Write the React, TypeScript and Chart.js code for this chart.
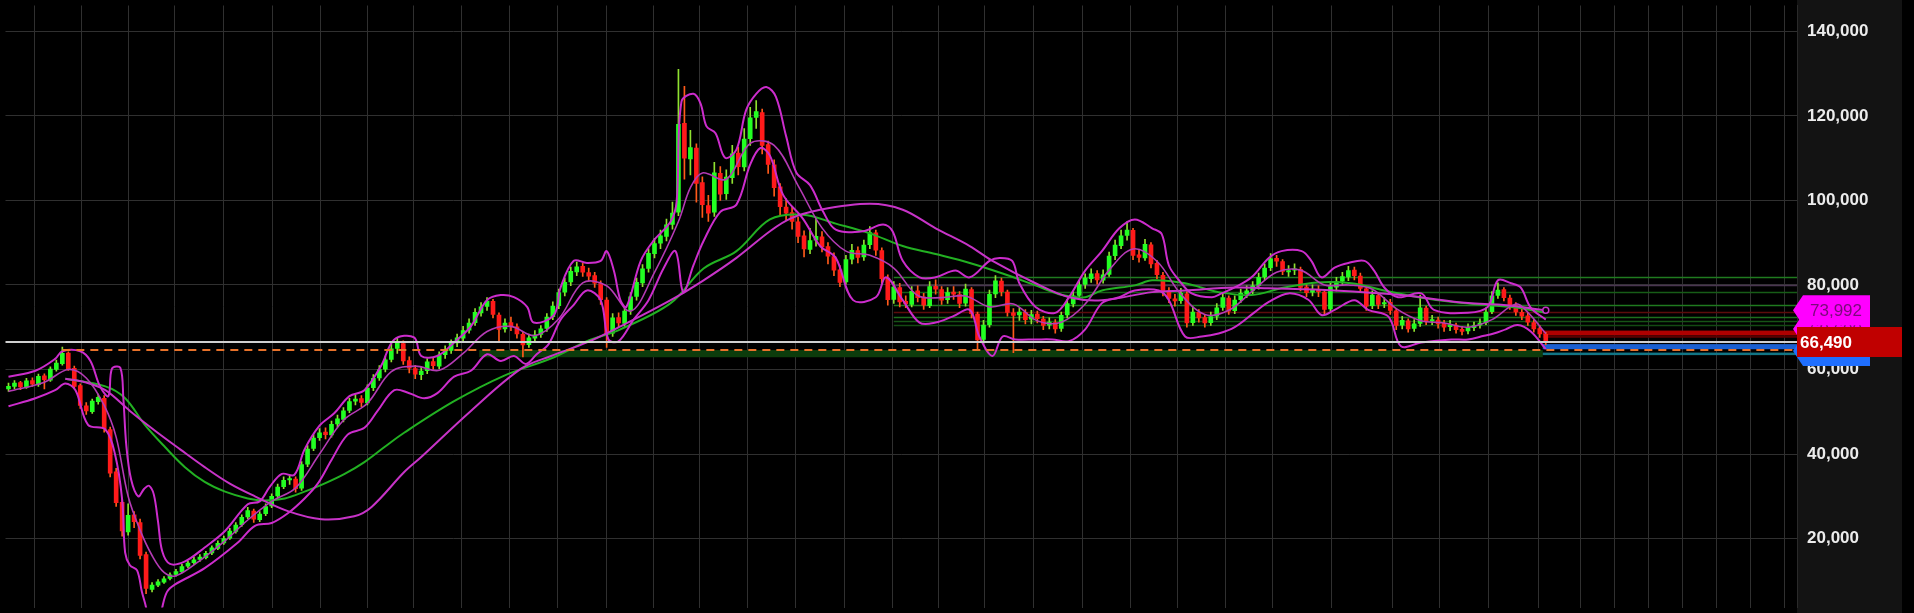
import React, { useEffect, useRef } from 'react';
import { Chart, registerables } from 'chart.js';

Chart.register(...registerables);

// ---- candle data (values in thousands) ----
const opens = [
  55.4,56.0,56.9,55.8,57.4,56.4,58.5,57.5,60.0,61.4,
  63.9,60.3,56.2,51.4,50.0,52.4,53.2,45.8,35.8,28.6,
  21.6,25.6,23.8,16.2,8.0,9.0,9.7,10.6,11.5,12.1,
  13.5,14.3,15.1,15.5,16.6,17.7,19.0,20.1,21.7,23.3,
  25.1,26.5,24.5,25.9,27.7,30.1,32.3,33.9,34.1,31.9,
  37.6,41.3,43.9,45.2,44.5,47.1,48.2,50.3,52.5,53.1,
  52.1,55.7,58.0,60.1,62.4,65.0,66.1,62.1,60.2,58.8,
  59.7,61.9,60.8,63.5,64.5,66.3,67.4,69.3,71.1,73.4,
  74.9,76.1,72.9,69.6,71.1,70.1,68.3,65.9,67.4,68.3,
  69.7,72.5,75.1,78.3,80.7,83.1,84.4,82.9,82.2,80.3,
  76.4,68.6,72.3,70.9,73.9,77.3,80.5,83.9,87.4,89.9,
  91.5,94.3,97.2,118.2,109.8,112.4,104.2,98.8,97.2,106.4,
  101.6,105.4,111.2,107.9,114.6,119.6,120.8,113.2,108.4,103.2,
  98.4,97.1,94.9,91.6,88.4,90.6,91.4,89.1,86.7,83.6,
  80.7,86.1,88.1,86.6,89.5,92.3,88.1,81.6,76.6,79.4,
  76.1,75.4,78.6,77.1,75.1,79.7,78.9,76.5,78.3,77.7,
  75.7,78.9,73.1,67.1,70.6,77.9,80.9,78.3,73.4,72.9,
  73.5,71.9,73.1,71.9,70.5,71.1,69.7,72.9,75.5,77.5,
  80.1,81.5,82.7,81.1,82.5,86.9,89.3,91.7,92.9,87.1,
  86.4,89.5,85.1,82.3,78.6,76.7,76.3,77.9,71.1,73.5,
  72.3,71.1,72.6,74.7,76.9,73.9,76.5,77.9,78.7,79.9,
  81.9,84.1,86.3,85.5,83.1,83.5,83.7,79.5,78.3,78.7,
  78.3,74.3,79.5,80.9,81.9,83.5,82.1,79.1,75.1,77.5,
  75.5,75.9,73.9,70.5,71.5,69.7,70.9,74.5,71.5,71.7,
  70.9,70.1,70.5,69.5,69.1,69.9,70.5,71.1,73.7,77.5,
  78.9,76.9,75.1,73.5,72.7,71.1,69.7,68.3
];
const closes = [
  56.0,56.8,55.9,57.3,56.5,58.4,57.6,60.1,61.5,63.8,
  60.2,56.0,51.5,50.2,52.5,53.4,46.0,35.5,28.5,21.8,
  25.5,24.0,16.0,8.2,9.0,9.8,10.5,11.4,12.2,13.4,
  14.2,15.0,15.6,16.5,17.8,18.9,20.0,21.8,23.2,25.0,
  26.6,24.6,25.8,27.6,30.0,32.2,33.8,34.2,31.8,37.5,
  41.2,43.8,45.0,44.6,47.0,48.3,50.2,52.4,53.0,52.2,
  55.6,57.9,60.0,62.3,64.9,66.2,62.0,60.3,58.9,59.6,
  61.8,60.9,63.4,64.6,66.2,67.5,69.2,71.0,73.5,74.8,
  76.2,73.0,69.5,71.0,70.2,68.4,65.8,67.5,68.2,69.6,
  72.4,75.0,78.2,80.6,83.2,84.3,83.0,82.1,80.4,76.5,
  68.5,72.2,71.0,73.8,77.2,80.6,83.8,87.5,89.8,91.6,
  94.2,97.0,118.0,110.0,112.5,104.0,99.0,97.0,106.5,101.5,
  105.5,111.0,108.0,114.5,119.5,121.0,113.0,108.5,103.0,98.5,
  97.0,95.0,91.5,88.5,90.5,91.5,89.0,86.8,83.5,80.6,
  86.0,88.2,86.5,89.4,92.4,88.2,81.5,76.5,79.5,76.0,
  75.5,78.5,77.0,75.2,79.6,79.0,76.4,78.2,77.8,75.6,
  79.0,73.2,67.0,70.5,77.8,81.0,78.4,73.5,72.8,73.6,
  71.8,73.0,72.0,70.4,71.2,69.6,72.8,75.6,77.4,80.0,
  81.6,82.6,81.2,82.4,86.8,89.4,91.6,93.0,87.0,86.5,
  89.6,85.0,82.4,78.5,76.8,76.2,78.0,71.0,73.6,72.2,
  71.0,72.5,74.6,77.0,73.8,76.4,78.0,78.6,79.8,81.8,
  84.0,86.2,85.6,83.2,83.4,83.8,79.4,78.2,78.8,78.4,
  74.2,79.6,80.8,82.0,83.4,82.2,79.2,75.0,77.6,75.4,
  75.8,74.0,70.4,71.6,69.6,70.8,74.6,71.4,71.8,70.8,
  70.0,70.6,69.4,69.0,70.0,70.4,71.0,73.6,77.4,78.8,
  77.0,75.0,73.6,72.6,71.2,69.6,68.4,66.49
];
const highs = [
  56.8,57.4,57.2,57.9,58.0,58.9,59.0,60.6,62.2,65.3,
  64.2,60.8,56.6,52.2,53.0,54.2,53.8,46.4,36.6,29.4,
  28.2,26.4,24.6,16.8,9.6,10.3,11.0,11.9,12.7,13.9,
  14.7,15.6,16.2,17.0,18.3,19.5,20.6,22.4,23.8,25.6,
  27.4,27.0,26.4,28.2,30.6,32.9,34.6,35.0,34.6,38.2,
  42.0,44.6,46.0,46.2,47.8,49.2,51.0,53.2,54.0,53.8,
  56.4,58.8,60.9,63.2,66.0,67.4,66.8,63.0,61.0,60.6,
  62.6,62.8,64.2,65.6,67.0,68.4,70.2,72.0,74.4,75.8,
  77.0,76.6,73.4,72.0,72.4,70.8,68.8,68.4,69.2,70.4,
  73.2,76.0,79.0,81.6,84.2,85.4,85.2,84.0,83.0,81.0,
  77.0,73.2,73.4,74.8,78.2,81.6,84.8,88.6,91.0,93.0,
  95.6,99.6,131.0,127.0,116.6,113.4,105.6,101.2,109.0,108.0,
  107.2,113.0,112.6,117.0,122.0,123.6,121.6,114.0,109.6,104.0,
  100.4,98.6,96.0,92.8,93.4,95.8,92.6,90.0,87.6,84.6,
  87.0,89.6,89.0,90.6,93.8,93.0,88.8,82.4,80.8,80.4,
  77.4,79.6,79.8,78.0,80.8,81.2,79.6,79.4,79.6,78.4,
  80.2,79.4,73.6,71.6,78.8,82.2,81.6,78.8,74.4,74.6,
  74.2,74.0,73.8,72.6,72.2,71.8,73.6,76.6,78.4,81.0,
  82.6,83.8,83.4,83.6,87.8,90.6,93.0,95.0,93.4,88.4,
  90.8,90.0,85.8,83.0,79.4,77.8,79.2,78.4,74.8,74.2,
  73.0,73.6,75.6,78.0,77.4,77.4,79.0,79.8,80.8,82.8,
  85.0,87.4,87.0,86.0,84.6,85.0,84.2,80.2,80.0,79.8,
  78.8,80.4,81.8,83.0,84.4,84.2,82.8,79.6,78.6,78.2,
  77.0,76.6,74.4,72.6,72.0,71.8,77.6,75.0,72.8,72.4,
  71.6,71.6,71.0,70.2,70.8,71.2,72.0,74.6,78.4,80.5,
  79.4,77.6,75.8,74.6,73.4,71.8,70.4,68.8
];
const lows = [
  54.8,55.4,55.2,55.5,56.0,56.0,55.4,57.2,59.6,61.0,
  59.8,55.6,50.8,49.4,49.6,51.8,45.2,34.6,27.6,20.6,
  20.8,22.6,15.2,7.0,7.4,8.6,9.4,10.2,11.1,11.9,
  13.1,13.9,14.6,15.2,16.2,17.4,18.6,19.8,21.3,22.9,
  24.7,23.8,24.0,25.4,27.3,29.6,31.8,32.8,31.0,31.4,
  37.0,40.8,43.2,43.6,44.0,46.4,47.6,49.8,51.6,51.2,
  51.6,55.0,57.4,59.4,61.8,63.8,61.2,59.2,57.8,57.6,
  59.0,60.0,60.2,62.6,63.8,65.4,66.8,68.6,70.4,72.6,
  74.0,72.2,66.5,68.8,69.2,67.4,63.0,65.2,66.6,67.6,
  69.0,71.8,74.4,77.4,79.8,82.2,82.0,81.0,79.4,75.4,
  65.2,67.8,70.0,70.2,73.0,76.4,79.6,83.0,86.4,88.6,
  90.4,93.2,96.4,105.0,106.0,99.6,96.0,95.0,96.2,100.0,
  100.2,104.0,106.0,107.0,113.0,117.0,111.0,106.4,101.0,96.6,
  95.4,93.2,90.0,86.6,87.4,89.2,87.8,85.0,82.2,79.6,
  80.2,85.0,85.2,85.8,88.6,87.0,80.4,75.2,75.6,74.8,
  74.6,74.8,76.0,74.2,74.6,77.8,75.4,75.6,76.6,74.6,
  75.0,72.2,64.8,66.2,70.0,77.0,77.4,72.6,64.0,71.6,
  70.8,70.8,71.0,69.4,69.6,68.6,69.0,72.2,74.8,76.8,
  79.2,80.6,80.2,80.4,82.0,86.0,88.6,90.6,86.0,85.4,
  85.8,84.0,81.4,77.4,75.8,75.0,75.6,70.0,70.4,71.2,
  70.0,70.4,71.8,74.0,73.0,73.2,75.8,77.0,77.8,79.0,
  81.2,83.4,84.4,82.4,82.0,82.4,78.6,77.2,77.4,77.2,
  73.0,73.8,78.6,80.0,81.0,81.2,78.2,74.0,74.4,74.4,
  74.6,73.0,69.4,69.6,68.8,69.0,70.2,70.6,70.6,69.8,
  69.0,69.2,68.6,68.2,68.4,69.2,69.8,70.6,73.2,76.8,
  76.2,74.2,72.8,71.8,70.4,68.8,67.6,65.9
];

// ---- indicator lines (x = candle index, value in thousands) ----
const upperIdx = [0,4.5,7.8,9,12,13.7,15.3,16.7,17.3,18.7,19.2,19.7,20.5,21.7,22.7,23.5,24.3,25,25.7,27,29.5,32.8,36.2,40,42,43.7,45.7,47.8,49.5,52,54.5,57,59.5,62.3,64.5,67.8,69,71.7,74.5,77.3,80,82.3,84.5,86.7,87.8,91.2,92.3,94.5,96.7,99,100,101.2,102.3,103.3,105.7,107.8,110.7,111.7,112.5,114.5,115.7,116.7,118.2,119.8,121.7,123.3,125,126.7,128.3,130,131.7,134,136.2,138.3,142.8,146.2,147.8,149.5,152.3,155,158.3,160.7,164,165.7,167.8,169,171.7,175,177.3,180,182.8,185.7,188.3,191.2,192.8,194,195.7,197.8,201.2,202.8,205,207.8,210.7,212.8,216.2,217.8,219.5,221.7,224,226.7,228.3,230,232.3,236.2,238.3,244,247.3,249,251.2,252.8,254.5,257];
const upperVal = [58.3,59.7,62.5,64.3,64.3,62.0,56.0,53.7,60.2,60.4,53.2,42.0,34.0,30.0,31.8,32.5,30.4,24.0,17.0,14.0,14.6,17.9,21.8,28.1,28.8,32.3,35.3,35.1,41.1,46.7,49.7,53.7,55.1,60.9,67.1,67.6,63.2,63.2,66.4,70.2,76.4,77.6,77.1,74.8,71.1,72.9,79.4,85.7,85.2,85.7,88.0,83.4,76.4,74.8,85.7,90.4,95.0,99.7,123.3,125.2,122.9,117.5,115.9,110.1,112.0,121.3,125.2,126.8,124.5,115.2,106.6,103.6,97.3,93.1,92.7,94.3,92.7,85.7,81.8,81.8,83.4,81.8,85.7,86.4,85.7,80.4,74.8,73.4,77.1,83.4,88.0,93.4,95.5,93.4,92.0,84.6,81.1,78.0,77.1,78.0,79.4,81.8,86.4,88.0,88.0,85.7,81.8,84.1,85.2,85.7,83.4,79.4,77.1,78.0,74.1,73.4,74.8,81.1,80.4,79.4,74.6,71.8];

const midIdx = [0,6,10,13,16,18,20,22,24,26,28,32,36,40,44,48,52,56,60,64,68,72,76,80,84,88,92,96,100,104,108,112,114,116,120,124,128,132,136,140,144,148,152,156,160,164,168,172,176,180,184,188,192,196,200,204,208,212,216,220,224,228,232,236,240,244,248,252,254,257];
const midVal = [54.8,57.0,60.0,58.0,51.5,44.0,30.0,22.0,16.0,12.0,11.2,14.8,19.2,24.4,28.8,32.0,40.0,48.0,52.0,59.5,60.8,59.8,63.8,69.0,70.2,68.0,72.0,80.5,79.8,73.8,83.0,95.0,103.0,106.5,105.0,113.5,113.0,103.5,93.5,88.0,87.0,84.0,77.5,77.0,77.4,74.8,75.5,71.5,71.2,75.5,83.5,88.5,85.6,77.8,73.0,74.0,78.6,83.0,83.5,80.0,80.0,79.0,74.4,71.6,71.0,70.0,71.8,75.5,73.5,68.5];

const lowerIdx = [0,4.5,7.8,9.5,11.2,13.3,16.2,17.8,19,19.5,20.3,21.5,22.3,23,23.7,24.8,25.7,26.5,27.8,32.8,38.3,41.2,44,46.7,49.5,51.7,54,56.7,59.5,61.7,64.5,67,69.5,71.7,74.5,77.3,80,82.3,84.5,86.5,88.3,90.3,92.3,94.5,96.7,99,100.3,102,104.5,107,109.5,111.5,112.8,114.5,116.2,119,121.7,124,125.7,127.3,129.5,132.8,135.7,138.3,141.2,145,146.7,149.5,152.3,155,157.8,160.7,162.3,164.5,166.2,168.3,171.7,174.5,177.3,180,182.8,185.7,188.3,192.3,194,196.7,199.5,202.3,205,208.3,210.7,214,217.3,219.5,221.7,225,227.3,230.7,232.8,236.2,241.2,244,246.7,248.3,250.3,252.3,254.5,257];
const lowerVal = [51.3,53.2,55.1,56.7,55.1,46.9,45.8,40.0,29.3,16.7,13.7,12.5,7.4,3.7,-2.6,-2.6,3.7,7.4,9.1,13.0,19.0,23.0,23.7,26.0,29.5,33.0,38.6,44.6,46.2,50.2,55.1,54.4,53.2,54.4,58.3,59.7,63.6,62.0,63.2,61.3,63.6,66.0,71.8,75.3,78.7,76.4,67.1,66.7,71.8,76.4,83.9,88.0,78.3,84.6,90.4,97.3,99.0,108.5,112.4,110.6,101.3,95.7,89.2,86.4,76.4,77.1,81.8,76.4,71.1,71.1,72.5,74.1,67.8,63.2,67.8,67.1,67.1,67.1,66.7,69.5,75.7,77.1,78.7,78.7,76.4,67.8,67.8,68.5,70.0,73.5,76.0,78.0,76.5,72.9,74.1,76.4,74.1,72.5,65.5,66.4,67.1,67.1,68.0,68.5,69.5,70.5,69.0,64.8];

const longMaIdx = [9.5,12.8,16.2,20.3,24.5,28.7,32.8,37,41.2,46.7,52.3,57.8,60.7,66.2,69,77.3,85.7,90.7,96.7,102.3,110.7,116.2,121.7,127.3,130.7,135.7,144,149.5,155,160.7,164.5,171.7,177.3,182.8,191.2,196.7,205,210.7,221.7,232.8,244,249.5,257];
const longMaVal = [57.8,57.0,55.1,50.2,45.5,41.1,36.9,33.0,30.0,26.5,24.6,25.3,27.5,35.8,39.3,50.2,60.2,63.2,66.4,70.2,76.4,81.1,86.4,92.7,95.7,97.8,99.2,97.8,93.4,89.2,85.7,80.4,77.1,76.4,78.3,78.7,79.4,79.2,78.7,77.6,75.7,75.3,73.992];

const greenMaIdx = [9.5,16.2,19.5,22.8,26.2,29.5,32.8,36.2,40,42.8,46.2,49.5,52.8,56.2,59.5,62.8,66.2,74.5,82.8,91.2,96.7,102.3,110.7,116.2,121.7,127.3,132.8,138.3,144,149.5,155,160.7,166.2,171.7,176.2,180,182.8,188.3,191.2,196.7,202.3,207.8,213.3,218.8,224.5,230,235.7,241.2,246.7,252.3,257];
const greenMaVal = [57.8,56.0,53.2,46.9,41.6,36.9,33.4,31.1,29.5,29.0,29.5,31.1,33.0,35.3,38.1,41.6,45.1,52.5,58.5,62.9,66.7,69.5,75.7,83.9,88.0,95.5,96.6,94.5,92.2,89.2,87.3,85.2,82.7,79.9,77.6,77.1,78.7,79.9,81.1,80.4,78.3,77.6,79.4,80.6,80.4,78.7,77.1,76.0,75.3,74.6,73.4];

// ---- axes ----
const monthTicks = [0.5,8.3,16.2,23.8,31.8,40,48.2,56.2,63.7,71.7,79.8,87.8,95.8,104,111.7,119.5,127.5,135.7,143.8,151.7,159.2,167.2,175.5,183.5,191.7,199.3,207.5,215.2,227.3,235.3,243.3,251.5,260,265.7,271.3,277,282.7,288.3,294];
const priceTicks = [20,40,60,80,100,120,140];

// ---- levels ----
const lastPrice = 66.49;
const peakLevel = 64.6;
const peakLevelStart = 9;
const zoneLow = 62.9;
const zoneHigh = 64.6;
const zoneStart = 78.7;
const levelStart = 148;
const levelValues = [81.8, 79.9, 78.3, 75.3, 73.6, 72.5, 71.5, 70.6];
const levelColors = ['#1f7a1f', '#4a3650', '#175c17', '#1f7a1f', '#5c0c0c', '#1d6e1d', '#165416', '#134a13'];
const futureStart = 256.5;
const futureLow = [68.1, 67.5, 64.8, 63.4];
const futureHigh = [69.2, 68.1, 66.0, 64.0];
const futureColors = ['#b00000', '#5a0000', '#1a5fd0', '#127585'];

// ---- axis labels ----
const maLabelValue = 73.992;
const maLabel2Value = 69.6;
const blueLabelValue = 64.4;

const FONT = '"Liberation Sans", Arial, sans-serif';
const fmt = (v: number) => Math.round(v * 1000).toLocaleString('en-US');

const overlay = {
  id: 'overlay',
  beforeDraw(chart: any) {
    const { ctx, chartArea } = chart;
    ctx.save();
    ctx.fillStyle = '#000';
    ctx.fillRect(0, 0, chart.width, chart.height);
    ctx.fillStyle = '#131313';
    ctx.fillRect(chartArea.right, 0, 105, chart.height);
    ctx.restore();
  },
  beforeDatasetsDraw(chart: any) {
    const { ctx, chartArea, scales } = chart;
    const xs = scales.x, ys = scales.y;
    const R = chartArea.right;
    ctx.save();
    // support zone
    const zx = xs.getPixelForValue(zoneStart);
    const fx = xs.getPixelForValue(futureStart);
    ctx.fillStyle = 'rgba(12,60,12,1)';
    ctx.fillRect(zx, ys.getPixelForValue(zoneHigh), fx - zx, ys.getPixelForValue(zoneLow) - ys.getPixelForValue(zoneHigh));
    // level lines
    const lx = xs.getPixelForValue(levelStart);
    levelValues.forEach((v, i) => {
      const y = Math.round(ys.getPixelForValue(v)) + 0.5;
      ctx.strokeStyle = levelColors[i];
      ctx.lineWidth = 1.5;
      ctx.beginPath();
      ctx.moveTo(lx, y);
      ctx.lineTo(R, y);
      ctx.stroke();
    });
    // future bands
    futureLow.forEach((lo, i) => {
      const y1 = ys.getPixelForValue(futureHigh[i]);
      const y2 = ys.getPixelForValue(lo);
      ctx.fillStyle = futureColors[i];
      ctx.fillRect(fx, y1, R - fx, y2 - y1);
    });
    ctx.restore();
  },
  afterDatasetsDraw(chart: any) {
    const { ctx, chartArea, scales } = chart;
    const xs = scales.x, ys = scales.y;
    ctx.save();
    // peak dashed level
    const py = ys.getPixelForValue(peakLevel);
    ctx.strokeStyle = '#e8722a';
    ctx.lineWidth = 2;
    ctx.setLineDash([8, 6]);
    ctx.beginPath();
    ctx.moveTo(xs.getPixelForValue(peakLevelStart), py);
    ctx.lineTo(chartArea.right, py);
    ctx.stroke();
    ctx.setLineDash([]);
    // last price line
    const wy = ys.getPixelForValue(lastPrice);
    ctx.strokeStyle = '#cfcfcf';
    ctx.lineWidth = 2;
    ctx.beginPath();
    ctx.moveTo(chartArea.left, wy);
    ctx.lineTo(chartArea.right, wy);
    ctx.stroke();
    ctx.restore();
  },
  afterDraw(chart: any) {
    const { ctx, chartArea, scales } = chart;
    const ys = scales.y;
    const R = chartArea.right;
    const tag = (v: number, fill: string, h: number, x1: number, arrow: boolean) => {
      const yc = ys.getPixelForValue(v);
      ctx.fillStyle = fill;
      ctx.beginPath();
      if (arrow) {
        ctx.moveTo(R - 4, yc);
        ctx.lineTo(R + 6, yc - h / 2);
      } else {
        ctx.moveTo(R, yc - h / 2);
      }
      ctx.lineTo(x1, yc - h / 2);
      ctx.lineTo(x1, yc + h / 2);
      if (arrow) {
        ctx.lineTo(R + 6, yc + h / 2);
      } else {
        ctx.lineTo(R, yc + h / 2);
      }
      ctx.closePath();
      ctx.fill();
      return yc;
    };
    ctx.save();
    ctx.textBaseline = 'middle';
    ctx.textAlign = 'left';
    // blue tag
    tag(blueLabelValue, '#1f6fff', 30, R + 73, true);
    // second magenta tag
    let yc = tag(maLabel2Value, '#ff00ff', 30, R + 73, true);
    ctx.fillStyle = '#7a0a7a';
    ctx.font = `17px ${FONT}`;
    ctx.fillText(fmt(maLabel2Value), R + 13, yc + 1);
    // magenta tag
    yc = tag(maLabelValue, '#ff00ff', 30, R + 73, true);
    ctx.fillStyle = '#7a0a7a';
    ctx.fillText(fmt(maLabelValue), R + 13, yc + 1);
    // red price tag
    yc = tag(lastPrice, '#c00000', 30, R + 105, false);
    ctx.fillStyle = '#ffffff';
    ctx.font = `bold 17px ${FONT}`;
    ctx.fillText(fmt(lastPrice), R + 3, yc + 1);
    ctx.restore();
  }
};

export default function App() {
  const ref = useRef<HTMLCanvasElement | null>(null);
  useEffect(() => {
    document.body.style.margin = '0';
    document.body.style.background = '#000';
    const canvas = ref.current;
    if (!canvas) return;
    const n = closes.length;
    const idx = Array.from({ length: n }, (_, i) => i);
    const up = idx.map(i => closes[i] >= opens[i]);
    const bodyColors = up.map(u => (u ? '#22ff22' : '#ff1a1a'));
    const wickColors = up.map(u => (u ? '#8fe030' : '#ff5a1a'));
    const line = (xsA: number[], vsA: number[], color: string, width: number, order: number, endDot = false) => ({
      type: 'line',
      data: xsA.map((x, i) => ({ x, y: vsA[i] })),
      borderColor: color,
      borderWidth: width,
      pointRadius: endDot ? xsA.map((_, i) => (i === xsA.length - 1 ? 3 : 0)) : 0,
      pointBorderColor: color,
      pointBackgroundColor: '#000',
      pointBorderWidth: 1.5,
      tension: 0.35,
      fill: false,
      order,
    });
    const chart = new Chart(canvas, {
      type: 'bar',
      data: {
        datasets: [
          {
            type: 'bar',
            data: idx.map(i => ({ x: i, y: [lows[i], highs[i]] })),
            backgroundColor: wickColors,
            barThickness: 1,
            grouped: false,
            borderWidth: 0,
            order: 20,
          },
          {
            type: 'bar',
            data: idx.map(i => ({ x: i, y: [opens[i], closes[i]] })),
            backgroundColor: bodyColors,
            barThickness: 4,
            minBarLength: 1,
            grouped: false,
            borderWidth: 0,
            order: 19,
          },
          line(greenMaIdx, greenMaVal, '#22b022', 2, 5),
          line(longMaIdx, longMaVal, '#c733c7', 2, 4, true),
          line(midIdx, midVal, '#b43ab4', 1.6, 3),
          line(lowerIdx, lowerVal, '#cc2ccc', 2, 2),
          line(upperIdx, upperVal, '#cc2ccc', 2, 1),
        ] as any,
      },
      options: {
        animation: false,
        responsive: false,
        maintainAspectRatio: false,
        layout: { padding: 0 },
        plugins: { legend: { display: false }, tooltip: { enabled: false } },
        scales: {
          x: {
            type: 'linear',
            min: -0.5,
            max: 299,
            offset: false,
            grid: { color: '#303030', lineWidth: 1, drawTicks: false },
            border: { display: false },
            ticks: { display: false },
            afterBuildTicks: (s: any) => { s.ticks = monthTicks.map(v => ({ value: v })); },
            afterFit: (s: any) => { s.height = 0; s.paddingLeft = 0; s.paddingRight = 0; },
          },
          y: {
            type: 'linear',
            position: 'right',
            min: 3.7,
            max: 146.1,
            grid: { color: '#303030', lineWidth: 1, drawTicks: false },
            border: { display: true, color: '#2a2a2a' },
            ticks: {
              color: '#ececec',
              padding: 10,
              font: { family: FONT, size: 17, weight: 'bold' },
              callback: (v: any) => fmt(Number(v)),
            },
            afterBuildTicks: (s: any) => { s.ticks = priceTicks.map(v => ({ value: v })); },
            afterFit: (s: any) => { s.width = 117; s.paddingTop = 0; s.paddingBottom = 0; },
          },
        },
      } as any,
      plugins: [overlay],
    } as any);
    return () => chart.destroy();
  }, []);
  return (
    <div style={{ width: 1914, height: 613, background: '#000' }}>
      <canvas ref={ref} width={1914} height={613} style={{ display: 'block' }} />
    </div>
  );
}
